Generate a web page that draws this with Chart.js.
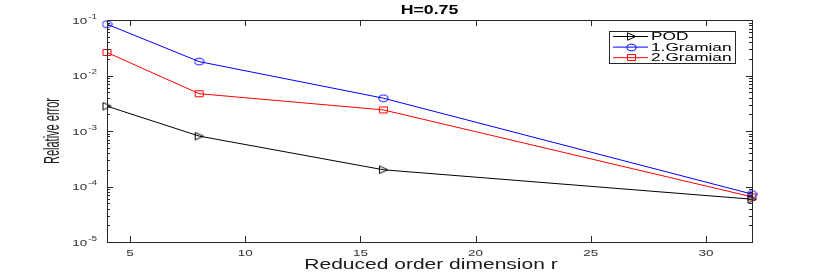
<!DOCTYPE html>
<html><head><meta charset="utf-8">
<script src="https://cdn.jsdelivr.net/npm/chart.js@4/dist/chart.umd.min.js"></script>
<style>html,body{margin:0;padding:0;background:#fff;}canvas{display:block;}</style>
</head><body>
<canvas id="c" width="830" height="273"></canvas>
<script>
const rValues = [4, 8, 16, 32];
const podErr = [0.0028, 0.00081, 0.0002, 0.000059];
const gram1Err = [0.084, 0.0178, 0.0039, 0.000073];
const gram2Err = [0.026, 0.0047, 0.0024, 0.000065];
const seriesLabels = ['POD', '1.Gramian', '2.Gramian'];
const xTicks = [5, 10, 15, 20, 25, 30];
const yDecades = [1e-5, 1e-4, 1e-3, 1e-2, 1e-1];
const titleText = 'H=0.75';
const xTitle = 'Reduced order dimension r';
const yTitle = 'Relative error';

function pts(arr){ return rValues.map((x,i)=>({x:x,y:arr[i]})); }

const FONT = '"Liberation Sans", Arial, sans-serif';
const AX = '#262626';
const SX = 1.42; // horizontal stretch of text in the reference

function marker(kind, color){
  const c = document.createElement('canvas');
  const w = 11, h = 9; c.width = w; c.height = h;
  const g = c.getContext('2d');
  g.strokeStyle = color; g.lineWidth = 1;
  g.beginPath();
  if (kind === 'circle') g.ellipse(w/2, h/2, 4.6, 3.3, 0, 0, Math.PI*2);
  else if (kind === 'rect') g.rect(1.5, 1.5, 8, 6);
  else { g.moveTo(1.5, 0.8); g.lineTo(9.8, 4.5); g.lineTo(1.5, 8.2); g.closePath(); }
  g.stroke();
  return c;
}
const mPOD = marker('tri', '#000');
const mG1 = marker('circle', '#0000ff');
const mG2 = marker('rect', '#ff0000');

function sText(ctx, text, x, y, font, sx, align){
  ctx.save();
  ctx.font = font;
  const w = ctx.measureText(text).width * sx;
  let x0 = x;
  if (align === 'center') x0 = x - w/2; else if (align === 'right') x0 = x - w;
  ctx.translate(x0, y); ctx.scale(sx, 1);
  ctx.textAlign = 'left';
  ctx.fillText(text, 0, 0);
  ctx.restore();
  return w;
}

const framePlugin = {
  id: 'frame',
  afterDraw(chart) {
    const ctx = chart.ctx, a = chart.chartArea;
    const xs = chart.scales.x, ys = chart.scales.y;
    ctx.save();
    ctx.strokeStyle = AX; ctx.lineWidth = 1;
    ctx.strokeRect(Math.round(a.left)+0.5, Math.round(a.top)+0.5, Math.round(a.right-a.left), Math.round(a.bottom-a.top));
    ctx.beginPath();
    xTicks.forEach(v=>{
      const p = Math.round(xs.getPixelForValue(v))+0.5;
      ctx.moveTo(p, a.bottom); ctx.lineTo(p, a.bottom-6);
      ctx.moveTo(p, a.top); ctx.lineTo(p, a.top+6);
    });
    yDecades.forEach((d,i)=>{
      const p = Math.round(ys.getPixelForValue(d))+0.5;
      ctx.moveTo(a.left, p); ctx.lineTo(a.left+6, p);
      ctx.moveTo(a.right, p); ctx.lineTo(a.right-6, p);
      if (i < yDecades.length-1) {
        for (let k=2;k<=9;k++){
          const q = Math.round(ys.getPixelForValue(d*k))+0.5;
          ctx.moveTo(a.left, q); ctx.lineTo(a.left+3, q);
          ctx.moveTo(a.right, q); ctx.lineTo(a.right-3, q);
        }
      }
    });
    ctx.stroke();

    // tick labels
    ctx.fillStyle = '#333';
    ctx.textBaseline = 'middle';
    xTicks.forEach(v=>{
      sText(ctx, String(v), xs.getPixelForValue(v), a.bottom + 11, '9.5px ' + FONT, SX, 'center');
    });
    yDecades.forEach(d=>{
      const p = ys.getPixelForValue(d);
      const e = String(Math.round(Math.log10(d)));
      ctx.font = '7px ' + FONT;
      const ws = ctx.measureText(e).width * SX;
      ctx.font = '9.5px ' + FONT;
      const wb = ctx.measureText('10').width * SX;
      const right = a.left - 10;
      sText(ctx, '10', right - ws - wb - 1, p + 1, '9.5px ' + FONT, SX, 'left');
      sText(ctx, e, right - ws, p - 3, '7px ' + FONT, SX, 'left');
    });

    // title
    ctx.fillStyle = '#000';
    sText(ctx, titleText, (a.left+a.right)/2, 11, 'bold 12.5px ' + FONT, SX, 'center');
    // x title
    ctx.fillStyle = '#1a1a1a';
    sText(ctx, xTitle, 431, 265, '14.8px ' + FONT, SX, 'center');
    // y title (condensed along its length)
    ctx.save();
    ctx.translate(53, (a.top+a.bottom)/2);
    ctx.rotate(-Math.PI/2);
    ctx.font = '22px ' + FONT;
    const w = ctx.measureText(yTitle).width;
    ctx.scale(66/w, 1);
    ctx.textAlign = 'center';
    ctx.fillText(yTitle, 0, 0);
    ctx.restore();

    // legend
    const lx = 609, ly = 31, lw = 126, lh = 32;
    ctx.fillStyle = '#fff';
    ctx.fillRect(lx, ly, lw, lh);
    ctx.strokeStyle = AX;
    ctx.strokeRect(lx+0.5, ly+0.5, lw, lh);
    chart.data.datasets.forEach((ds, i)=>{
      const y = 36.5 + i*10.6;
      ctx.strokeStyle = ds.borderColor; ctx.lineWidth = 1;
      ctx.beginPath(); ctx.moveTo(613, y); ctx.lineTo(648, y); ctx.stroke();
      const img = ds.pointStyle;
      ctx.drawImage(img, Math.round(631 - img.width/2), Math.round(y - img.height/2));
      ctx.fillStyle = '#000';
      sText(ctx, ds.label, 651, y + 0.5, '11.5px ' + FONT, 1.5, 'left');
    });
    ctx.restore();
  }
};

new Chart(document.getElementById('c'), {
  type: 'line',
  data: {
    datasets: [
      {label: seriesLabels[0], data: pts(podErr), borderColor: '#000', backgroundColor: 'rgba(0,0,0,0)', pointStyle: mPOD, borderWidth: 1, clip: false},
      {label: seriesLabels[1], data: pts(gram1Err), borderColor: '#0000ff', backgroundColor: 'rgba(0,0,0,0)', pointStyle: mG1, borderWidth: 1, clip: false},
      {label: seriesLabels[2], data: pts(gram2Err), borderColor: '#ff0000', backgroundColor: 'rgba(0,0,0,0)', pointStyle: mG2, borderWidth: 1, clip: false}
    ]
  },
  options: {
    responsive: false, animation: false, devicePixelRatio: 1,
    layout: {padding: {left: 0, right: 78, top: 20, bottom: 0}},
    plugins: {legend: {display: false}, title: {display: false}, tooltip: {enabled: false}},
    elements: {line: {tension: 0}},
    scales: {
      x: {
        type: 'linear', min: 4, max: 32,
        afterFit(s){ s.height = 31; },
        afterBuildTicks(s){ s.ticks = xTicks.map(v=>({value:v})); },
        grid: {display: false, drawTicks: false},
        border: {display: false},
        ticks: {display: false}
      },
      y: {
        type: 'logarithmic', min: 1e-5, max: 1e-1,
        afterFit(s){ s.width = 107; },
        afterBuildTicks(s){ s.ticks = yDecades.map(v=>({value:v})); },
        grid: {display: false, drawTicks: false},
        border: {display: false},
        ticks: {display: false}
      }
    }
  },
  plugins: [framePlugin]
});
</script>
</body></html>
